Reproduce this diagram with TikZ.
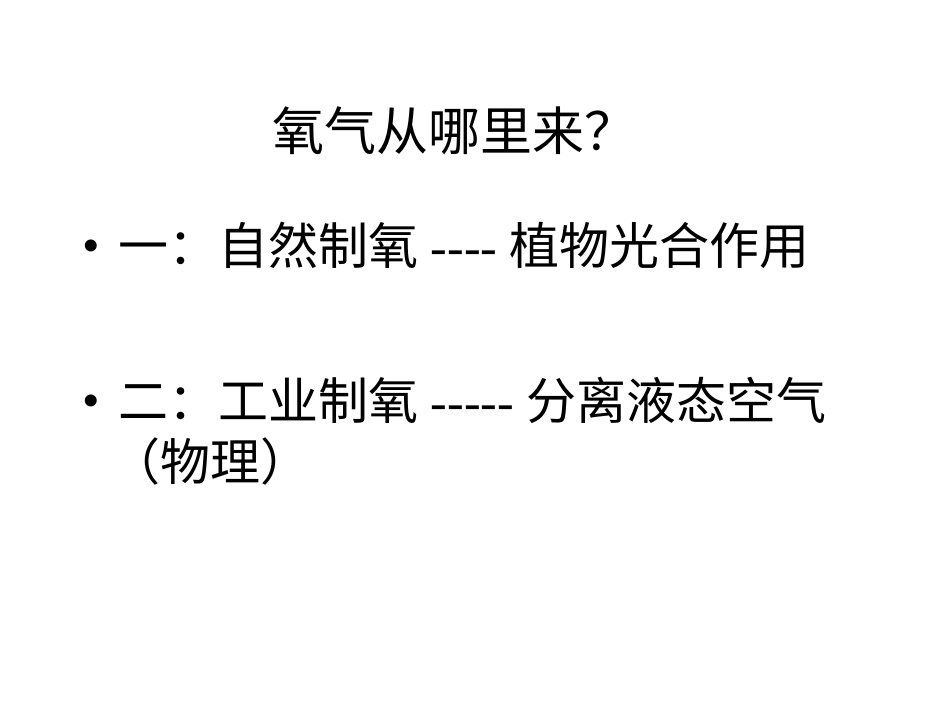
\documentclass[tikz,border=0pt]{standalone}
\usepackage{fontspec}
\setmainfont{Liberation Serif}[Ligatures=TeXOff]
\newfontfamily\cjk{Noto Sans CJK SC}
\newcommand{\dsh}{-\kern0pt}
\begin{document}
\begin{tikzpicture}[x=1pt,y=-1pt,txt/.style={anchor=base west,inner sep=0pt,font=\fontsize{50}{58}\selectfont}]
\useasboundingbox[fill=white] (0,0) rectangle (950,713);
\node[txt,font=\fontsize{52}{60}\selectfont] (title) at (272,150) {\cjk 氧气从哪里来\char"FF1F};
\node[txt] (b1) at (82,262) {•};
\node[txt] (l1) at (118,264) {{\cjk 一：自然制氧} \dsh\dsh\dsh\dsh\ {\cjk 植物光合作用}};
\node[txt] (b2) at (82,417) {•};
\node[txt] (l2) at (118,419) {{\cjk 二：工业制氧} \dsh\dsh\dsh\dsh\dsh\ {\cjk 分离液态空气}};
\node[txt] (l3) at (110,480) {\cjk （物理）};
\end{tikzpicture}
\end{document}
